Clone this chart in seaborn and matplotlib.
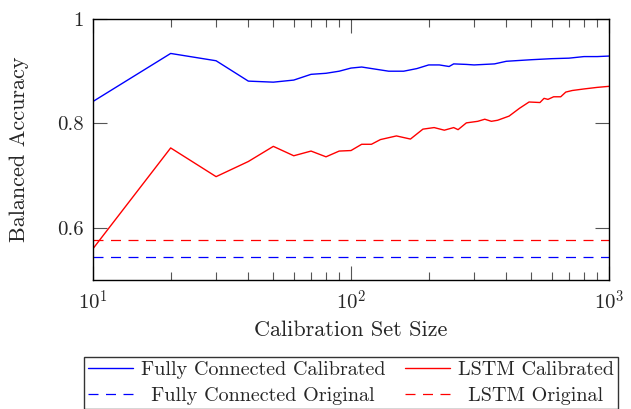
import numpy as np
import pandas as pd
import seaborn as sns
import matplotlib
matplotlib.use("Agg")
import matplotlib.pyplot as plt
from matplotlib.ticker import FixedLocator, FixedFormatter, LogLocator, NullFormatter

# ---- data ----
fc_x = [10, 20, 30, 40, 50, 60, 70, 80, 90, 100, 110, 140, 160, 180, 200, 220,
        240, 250, 280, 300, 360, 400, 500, 600, 700, 800, 900, 1000]
fc_y = [0.842, 0.934, 0.920, 0.881, 0.879, 0.883, 0.894, 0.896, 0.900, 0.906,
        0.908, 0.900, 0.900, 0.905, 0.912, 0.912, 0.909, 0.914, 0.913, 0.912,
        0.914, 0.919, 0.922, 0.924, 0.925, 0.928, 0.928, 0.929]

lstm_x = [10, 20, 30, 40, 50, 60, 70, 80, 90, 100, 110, 120, 130, 150, 170, 190,
          210, 230, 250, 260, 280, 310, 330, 350, 370, 410, 450, 490, 540, 560,
          580, 610, 650, 680, 720, 800, 900, 1000]
lstm_y = [0.560, 0.753, 0.698, 0.727, 0.756, 0.738, 0.747, 0.736, 0.747, 0.748,
          0.760, 0.760, 0.769, 0.776, 0.770, 0.789, 0.792, 0.787, 0.792, 0.788,
          0.801, 0.804, 0.808, 0.804, 0.806, 0.814, 0.829, 0.841, 0.840, 0.848,
          0.846, 0.851, 0.851, 0.860, 0.863, 0.866, 0.869, 0.871]

fc_original = 0.5435
lstm_original = 0.5775

labels = ["Fully Connected Calibrated", "LSTM Calibrated",
          "Fully Connected Original", "LSTM Original"]
y_ticks = [0.6, 0.8, 1.0]
y_ticklabels = ["0.6", "0.8", "1"]

sns.set_style("ticks")
plt.rcParams["font.family"] = ["cmr10", "DejaVu Serif"]
plt.rcParams["mathtext.fontset"] = "cm"
plt.rcParams["axes.unicode_minus"] = False

fig = plt.figure(figsize=(6.31, 4.09), dpi=100)
ax = fig.add_axes([93 / 631, 1 - 280 / 409, (609 - 93) / 631, (280 - 19) / 409])

fs = 16
sns.lineplot(x=fc_x, y=fc_y, ax=ax, color="#0000ff", lw=1.0, label=labels[0])
sns.lineplot(x=lstm_x, y=lstm_y, ax=ax, color="#ff0000", lw=1.0, label=labels[1])
sns.lineplot(x=[10, 1000], y=[fc_original, fc_original], ax=ax, color="#0000ff",
             lw=0.9, label=labels[2]).lines[-1].set_dashes((8, 6))
sns.lineplot(x=[10, 1000], y=[lstm_original, lstm_original], ax=ax, color="#ff0000",
             lw=0.9, label=labels[3]).lines[-1].set_dashes((8, 6))

ax.set_xscale("log")
ax.set_xlim(10, 1000)
ax.set_ylim(0.5, 1.0)
ax.xaxis.set_major_locator(FixedLocator([10, 100, 1000]))
ax.xaxis.set_major_formatter(FixedFormatter([r"$10^{1}$", r"$10^{2}$", r"$10^{3}$"]))
ax.xaxis.set_minor_locator(LogLocator(base=10, subs=np.arange(2, 10), numticks=20))
ax.xaxis.set_minor_formatter(NullFormatter())
ax.yaxis.set_major_locator(FixedLocator(y_ticks))
ax.yaxis.set_major_formatter(FixedFormatter(y_ticklabels))

ax.tick_params(which="both", direction="in", top=True, right=True, color="#555555",
               labelsize=15, width=0.8)
ax.tick_params(which="major", length=10, pad=7)
ax.tick_params(which="minor", length=6)
for s in ax.spines.values():
    s.set_linewidth(1.0)
    s.set_color("black")

ax.set_xlabel("Calibration Set Size", fontsize=fs, labelpad=5)
ax.set_ylabel("Balanced Accuracy", fontsize=fs, labelpad=20)

handles, lbls = ax.get_legend_handles_labels()
order = [0, 2, 1, 3]
# original-series entries are centred in their column in the reference
shown = [lbls[0], "\u2002" + lbls[2], lbls[1], "\u2002" + lbls[3]]
leg = ax.legend([handles[i] for i in order], shown,
                loc="upper center", bbox_to_anchor=(0.5 * (79 + 623) / 631, 1 - 357 / 409),
                bbox_transform=fig.transFigure, borderaxespad=0, ncol=2, fontsize=14.5,
                frameon=True, fancybox=False, edgecolor="black", handlelength=2.2,
                columnspacing=1.0, borderpad=0.2, labelspacing=0.38, handletextpad=0.4)
leg.get_frame().set_linewidth(1.0)

fig.savefig("out.png", dpi=100)
